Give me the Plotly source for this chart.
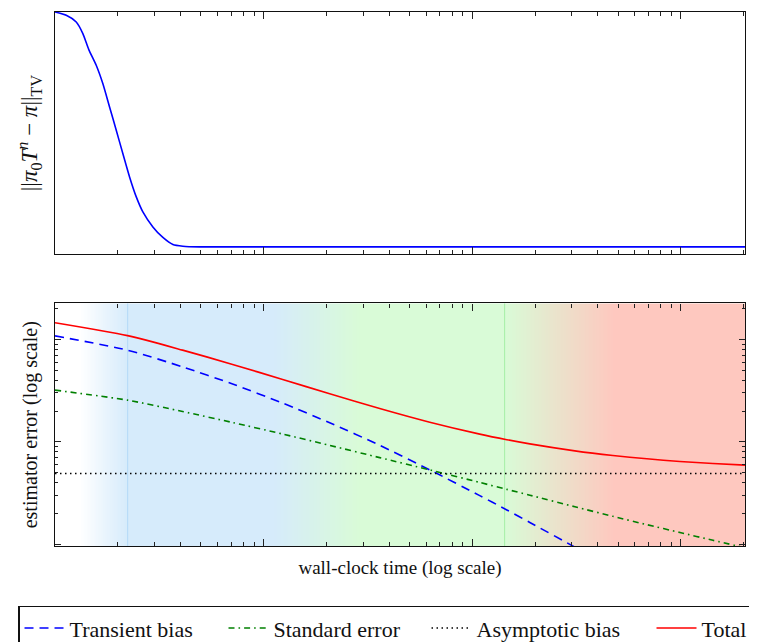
import numpy as np
import plotly.graph_objects as go

# ---------------- data ----------------
# top panel: total-variation distance to stationarity vs wall-clock time
tv_time = [1.0, 1.132, 1.264, 1.36, 1.452, 1.576, 1.695, 1.826, 1.966, 2.114,
           2.277, 2.452, 2.637, 2.945, 3.289, 3.673, 4.102, 4.932, 2028]
tv_dist = [1.0, 0.9864, 0.9587, 0.9109, 0.8448, 0.78, 0.7045, 0.6079, 0.5118,
           0.4156, 0.319, 0.2365, 0.1746, 0.1127, 0.0689, 0.04, 0.033, 0.0301, 0.0301]

# bottom panel: estimator error components
wall_time = [1.0, 2.227, 4.088, 7.10, 12.34, 20.73, 36.0, 62.55, 108.6, 146.4,
             188.7, 310.1, 472, 687, 989, 1424, 2028]
transient_bias = [0.01084, 0.00786, 0.0054, 0.003673, 0.002388, 0.001535, 0.000925,
                  0.000532, 0.000298, 0.000216, 0.000163, 0.0000935, 0.0000578,
                  None, None, None, None]
standard_error = [0.0032, 0.002554, 0.001978, 0.001544, 0.001191, 0.000923, 0.000701,
                  0.000532, 0.000401, 0.000343, 0.000301, 0.000232, 0.000187,
                  0.000155, 0.00013, 0.000109, 0.0000922]
asym_time = [1.0, 2028]
asymptotic_bias = [0.00049, 0.00049]
total_error = [0.01458, 0.0109, 0.00787, 0.005707, 0.004069, 0.002948, 0.002116,
               0.001554, 0.001189, 0.001049, 0.000954, 0.000816, 0.000735,
               0.000682, 0.000643, 0.000614, 0.000592]

# background regime shading (colour stops along wall-clock time)
bg_stop_time = [1.0, 1.32, 2.23, 11.2, 28.8, 142.9, 479, 2028]
bg_stop_color = ['#ffffff', '#ffffff', '#d6ebfb', '#d6ebfb', '#d9fbd7', '#d9fbd7',
                 '#fec8bf', '#fec8bf']
marker_time = [2.23, 142.9]
marker_color = ['#b3daf7', '#a6eea6']

series_names = ['Transient bias', 'Standard error', 'Asymptotic bias', 'Total']
legend_widths = [149, 148, 170, 50]

# ---------------- figure ----------------
fig = go.Figure()

x_lo, x_hi = np.log10(bg_stop_time[0]), np.log10(bg_stop_time[-1])
edges = np.logspace(x_lo, x_hi, 501)
centers = np.log10(np.sqrt(edges[:-1] * edges[1:]))
cscale = [[(np.log10(t) - x_lo) / (x_hi - x_lo), c] for t, c in zip(bg_stop_time, bg_stop_color)]
cscale[0][0] = 0.0
cscale[-1][0] = 1.0
fig.add_trace(go.Heatmap(x=edges, y=[1e-6, 1.0], z=[centers], zmin=x_lo, zmax=x_hi,
                         colorscale=cscale, showscale=False, hoverinfo='skip',
                         xaxis='x2', yaxis='y2'))

for t, c in zip(marker_time, marker_color):
    fig.add_trace(go.Scatter(x=[t, t], y=[1e-6, 1.0], mode='lines',
                             line=dict(color=c, width=1), showlegend=False,
                             hoverinfo='skip', xaxis='x2', yaxis='y2'))

fig.add_trace(go.Scatter(x=tv_time, y=tv_dist, mode='lines', showlegend=False,
                         line=dict(color='#0000ff', width=1.6, shape='spline', smoothing=0.6),
                         xaxis='x', yaxis='y'))

fig.add_trace(go.Scatter(x=wall_time, y=transient_bias, mode='lines', name=series_names[0],
                         legendwidth=legend_widths[0],
                         line=dict(color='#0000ff', width=1.6, dash='9px,6px',
                                   shape='spline', smoothing=0.7),
                         xaxis='x2', yaxis='y2'))
fig.add_trace(go.Scatter(x=wall_time, y=standard_error, mode='lines', name=series_names[1],
                         legendwidth=legend_widths[1],
                         line=dict(color='#008000', width=1.6, dash='6px,4px,1.6px,4px',
                                   shape='spline', smoothing=0.7),
                         xaxis='x2', yaxis='y2'))
fig.add_trace(go.Scatter(x=asym_time, y=asymptotic_bias, mode='lines', name=series_names[2],
                         legendwidth=legend_widths[2],
                         line=dict(color='#000000', width=1.4, dash='1.5px,3.5px'),
                         xaxis='x2', yaxis='y2'))
fig.add_trace(go.Scatter(x=wall_time, y=total_error, mode='lines', name=series_names[3],
                         legendwidth=legend_widths[3],
                         line=dict(color='#ff0000', width=1.6, shape='spline', smoothing=0.7),
                         xaxis='x2', yaxis='y2'))

FONT = 'Liberation Serif'
XDOM = [0, 690 / 710]
xcommon = dict(type='log', range=[x_lo, x_hi], showticklabels=False, ticks='inside',
               ticklen=7, tickwidth=1, tickcolor='#222', dtick=1, mirror='ticks',
               showline=True, linecolor='#111', linewidth=1.4, showgrid=False,
               zeroline=False,
               minor=dict(ticks='inside', ticklen=4, tickwidth=1, tickcolor='#222',
                          dtick='D1', showgrid=False))

fig.update_layout(
    width=757, height=642,
    margin=dict(l=47, r=0, t=3.7, b=104, autoexpand=False),
    paper_bgcolor='white', plot_bgcolor='white',
    font=dict(family=FONT, size=20, color='#111'),
    xaxis=dict(xcommon, domain=XDOM, anchor='y'),
    yaxis=dict(domain=[0.5465, 1], range=[0, 1], showticklabels=False, ticks='',
               showline=True, mirror=True, linecolor='#111', linewidth=1.4,
               showgrid=False, zeroline=False,
               title=dict(text='||<i>π</i><sub>0</sub><i>T</i><sup><i>n</i></sup> − <i>π</i>||<sub>TV</sub>',
                          standoff=9, font=dict(size=23))),
    xaxis2=dict(xcommon, domain=XDOM, anchor='y2',
                title=dict(text='wall-clock time (log scale)', standoff=14,
                           font=dict(size=19))),
    yaxis2=dict(domain=[0, 0.4542], type='log', range=[-4.018, -1.648],
                showticklabels=False, ticks='inside', ticklen=6, tickwidth=1,
                tickcolor='#222', dtick=1, mirror='ticks', showline=True,
                linecolor='#111', linewidth=1.4, showgrid=False, zeroline=False,
                minor=dict(ticks='inside', ticklen=3, tickwidth=1, tickcolor='#222',
                           dtick='D1', showgrid=False),
                title=dict(text='estimator error (log scale)', standoff=10,
                           font=dict(size=20))),
    showlegend=True,
    legend=dict(orientation='h', x=-0.0521, xanchor='left', y=-0.1117, yanchor='top',
                bgcolor='white', bordercolor='#111', borderwidth=1.5,
                font=dict(family=FONT, size=22, color='#111'),
                traceorder='normal', itemwidth=40),
)

fig.write_html('out.html')
